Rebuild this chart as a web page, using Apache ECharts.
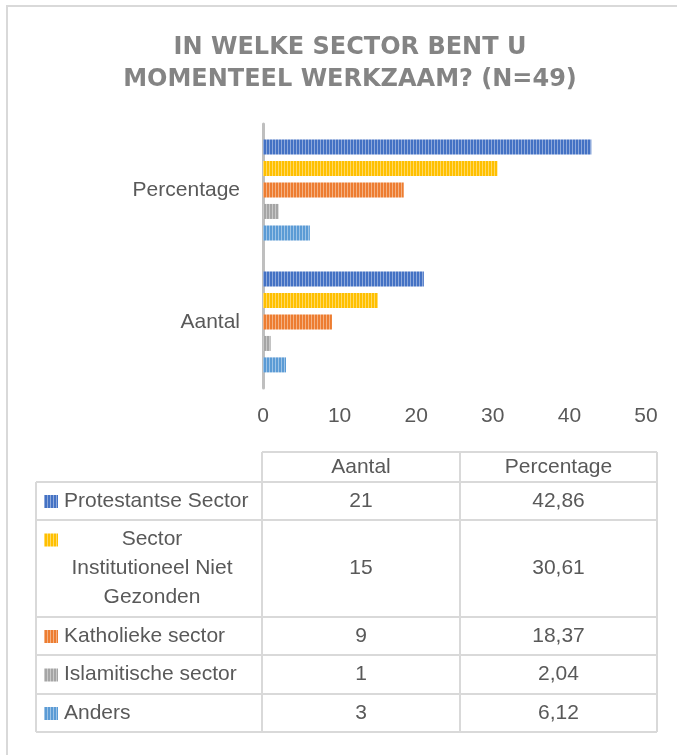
<!DOCTYPE html>
<html>
<head>
<meta charset="utf-8">
<title>In welke sector bent u momenteel werkzaam?</title>
<script src="https://cdn.jsdelivr.net/npm/echarts@6/dist/echarts.min.js"></script>
<style>
  html, body { margin: 0; padding: 0; background: #fff; }
  #chart { width: 677px; height: 755px; }
</style>
</head>
<body>
<div id="chart"></div>
<script>
// categorieen (van boven naar beneden)
var categories = ['Percentage', 'Aantal'];
// sectoren, in volgorde van de tabel
var sectors = ['Protestantse Sector', 'Sector\nInstitutioneel Niet\nGezonden', 'Katholieke sector', 'Islamitische sector', 'Anders'];
var aantal = [21, 15, 9, 1, 3];
var percentage = [42.86, 30.61, 18.37, 2.04, 6.12];
var xTicks = [0, 10, 20, 30, 40, 50];

var colors = ['#4472C4', '#FFC000', '#ED7D31', '#A5A5A5', '#5B9BD5'];
var lightColors = ['#8EA9DB', '#FFD966', '#F4B183', '#C9C9C9', '#9DC3E6'];

var FONT = 'Liberation Sans';
var TEXT_COLOR = '#595959';
var LINE_COLOR = '#D9D9D9';

// verticale streepjes (zoals het Excel-patroon)
function stripePattern(color, light) {
  var c = document.createElement('canvas');
  c.width = 3;
  c.height = 8;
  var ctx = c.getContext('2d');
  ctx.fillStyle = color;
  ctx.fillRect(0, 0, 3, 8);
  ctx.fillStyle = light;
  ctx.fillRect(2, 0, 1, 8);
  return { image: c, repeat: 'repeat' };
}

// getal met komma
function fmt(v) {
  return String(v).replace('.', ',');
}

var patterns = colors.map(function (c, i) {
  return stripePattern(c, lightColors[i]);
});

var series = sectors.map(function (name, i) {
  return {
    name: name,
    type: 'bar',
    barWidth: 15,
    barGap: '43%',
    silent: true,
    itemStyle: { color: patterns[i] },
    data: [percentage[i], aantal[i]]
  };
});

// tabel onder de grafiek
var colX = [36, 262, 460, 657];
var rowY = [452, 482, 520, 617, 655, 694, 732];
var table = [];

function hLine(x1, x2, y) {
  table.push({ type: 'line', shape: { x1: x1, y1: y, x2: x2, y2: y }, style: { stroke: LINE_COLOR, lineWidth: 2 } });
}
function vLine(x, y1, y2) {
  table.push({ type: 'line', shape: { x1: x, y1: y1, x2: x, y2: y2 }, style: { stroke: LINE_COLOR, lineWidth: 2 } });
}
function cellText(txt, x, y, align) {
  table.push({
    type: 'text',
    x: x,
    y: y,
    style: {
      text: txt,
      font: '21px "' + FONT + '"',
      fill: TEXT_COLOR,
      align: align || 'center',
      verticalAlign: 'middle',
      lineHeight: 29
    }
  });
}

hLine(colX[1], colX[3], rowY[0]);
for (var r = 1; r < rowY.length; r++) {
  hLine(colX[0], colX[3], rowY[r]);
}
vLine(colX[0], rowY[1], rowY[rowY.length - 1]);
vLine(colX[1], rowY[0], rowY[rowY.length - 1]);
vLine(colX[2], rowY[0], rowY[rowY.length - 1]);
vLine(colX[3], rowY[0], rowY[rowY.length - 1]);

// kopregel
var midA = (colX[1] + colX[2]) / 2;
var midP = (colX[2] + colX[3]) / 2;
cellText(categories[1], midA, (rowY[0] + rowY[1]) / 2);
cellText(categories[0], midP, (rowY[0] + rowY[1]) / 2);

sectors.forEach(function (name, i) {
  var top = rowY[i + 1];
  var bottom = rowY[i + 2];
  var mid = (top + bottom) / 2;
  var lines = name.split('\n').length;
  var firstLine = mid - (lines - 1) * 29 / 2;
  // legenda-sleutel
  table.push({
    type: 'rect',
    shape: { x: 44, y: firstLine - 6, width: 14, height: 13 },
    style: { fill: patterns[i] }
  });
  if (lines > 1) {
    cellText(name, 152, mid, 'center');
  } else {
    cellText(name, 64, mid, 'left');
  }
  cellText(String(aantal[i]), midA, mid);
  cellText(fmt(percentage[i].toFixed(2)), midP, mid);
});

var myChart = echarts.init(document.getElementById('chart'));
var option = {
  animation: false,
  backgroundColor: '#fff',
  title: {
    text: 'IN WELKE SECTOR BENT U\nMOMENTEEL WERKZAAM? (N=49)',
    left: 345,
    top: 27,
    textAlign: 'center',
    textStyle: {
      fontFamily: 'DejaVu Sans',
      fontSize: 24,
      fontWeight: 'bold',
      color: '#848484',
      lineHeight: 32
    }
  },
  grid: {
    left: 263,
    right: 31,
    top: 124,
    bottom: 367
  },
  xAxis: {
    type: 'value',
    min: xTicks[0],
    max: xTicks[xTicks.length - 1],
    interval: xTicks[1] - xTicks[0],
    axisLine: { show: false },
    axisTick: { show: false },
    splitLine: { show: false },
    axisLabel: {
      margin: 18,
      color: TEXT_COLOR,
      fontFamily: FONT,
      fontSize: 21
    }
  },
  yAxis: {
    type: 'category',
    inverse: true,
    data: categories,
    axisLine: { show: true, lineStyle: { color: '#BFBFBF', width: 3 } },
    axisTick: { show: false },
    axisLabel: {
      margin: 23,
      color: TEXT_COLOR,
      fontFamily: FONT,
      fontSize: 21
    }
  },
  series: series,
  graphic: [
    {
      type: 'rect',
      z: -1,
      shape: { x: 7, y: 6, width: 700, height: 780 },
      style: { fill: 'none', stroke: LINE_COLOR, lineWidth: 2 }
    },
    {
      type: 'group',
      children: table
    }
  ]
};
myChart.setOption(option);

window.addEventListener('resize', function () {
  myChart.resize();
});
</script>
</body>
</html>
